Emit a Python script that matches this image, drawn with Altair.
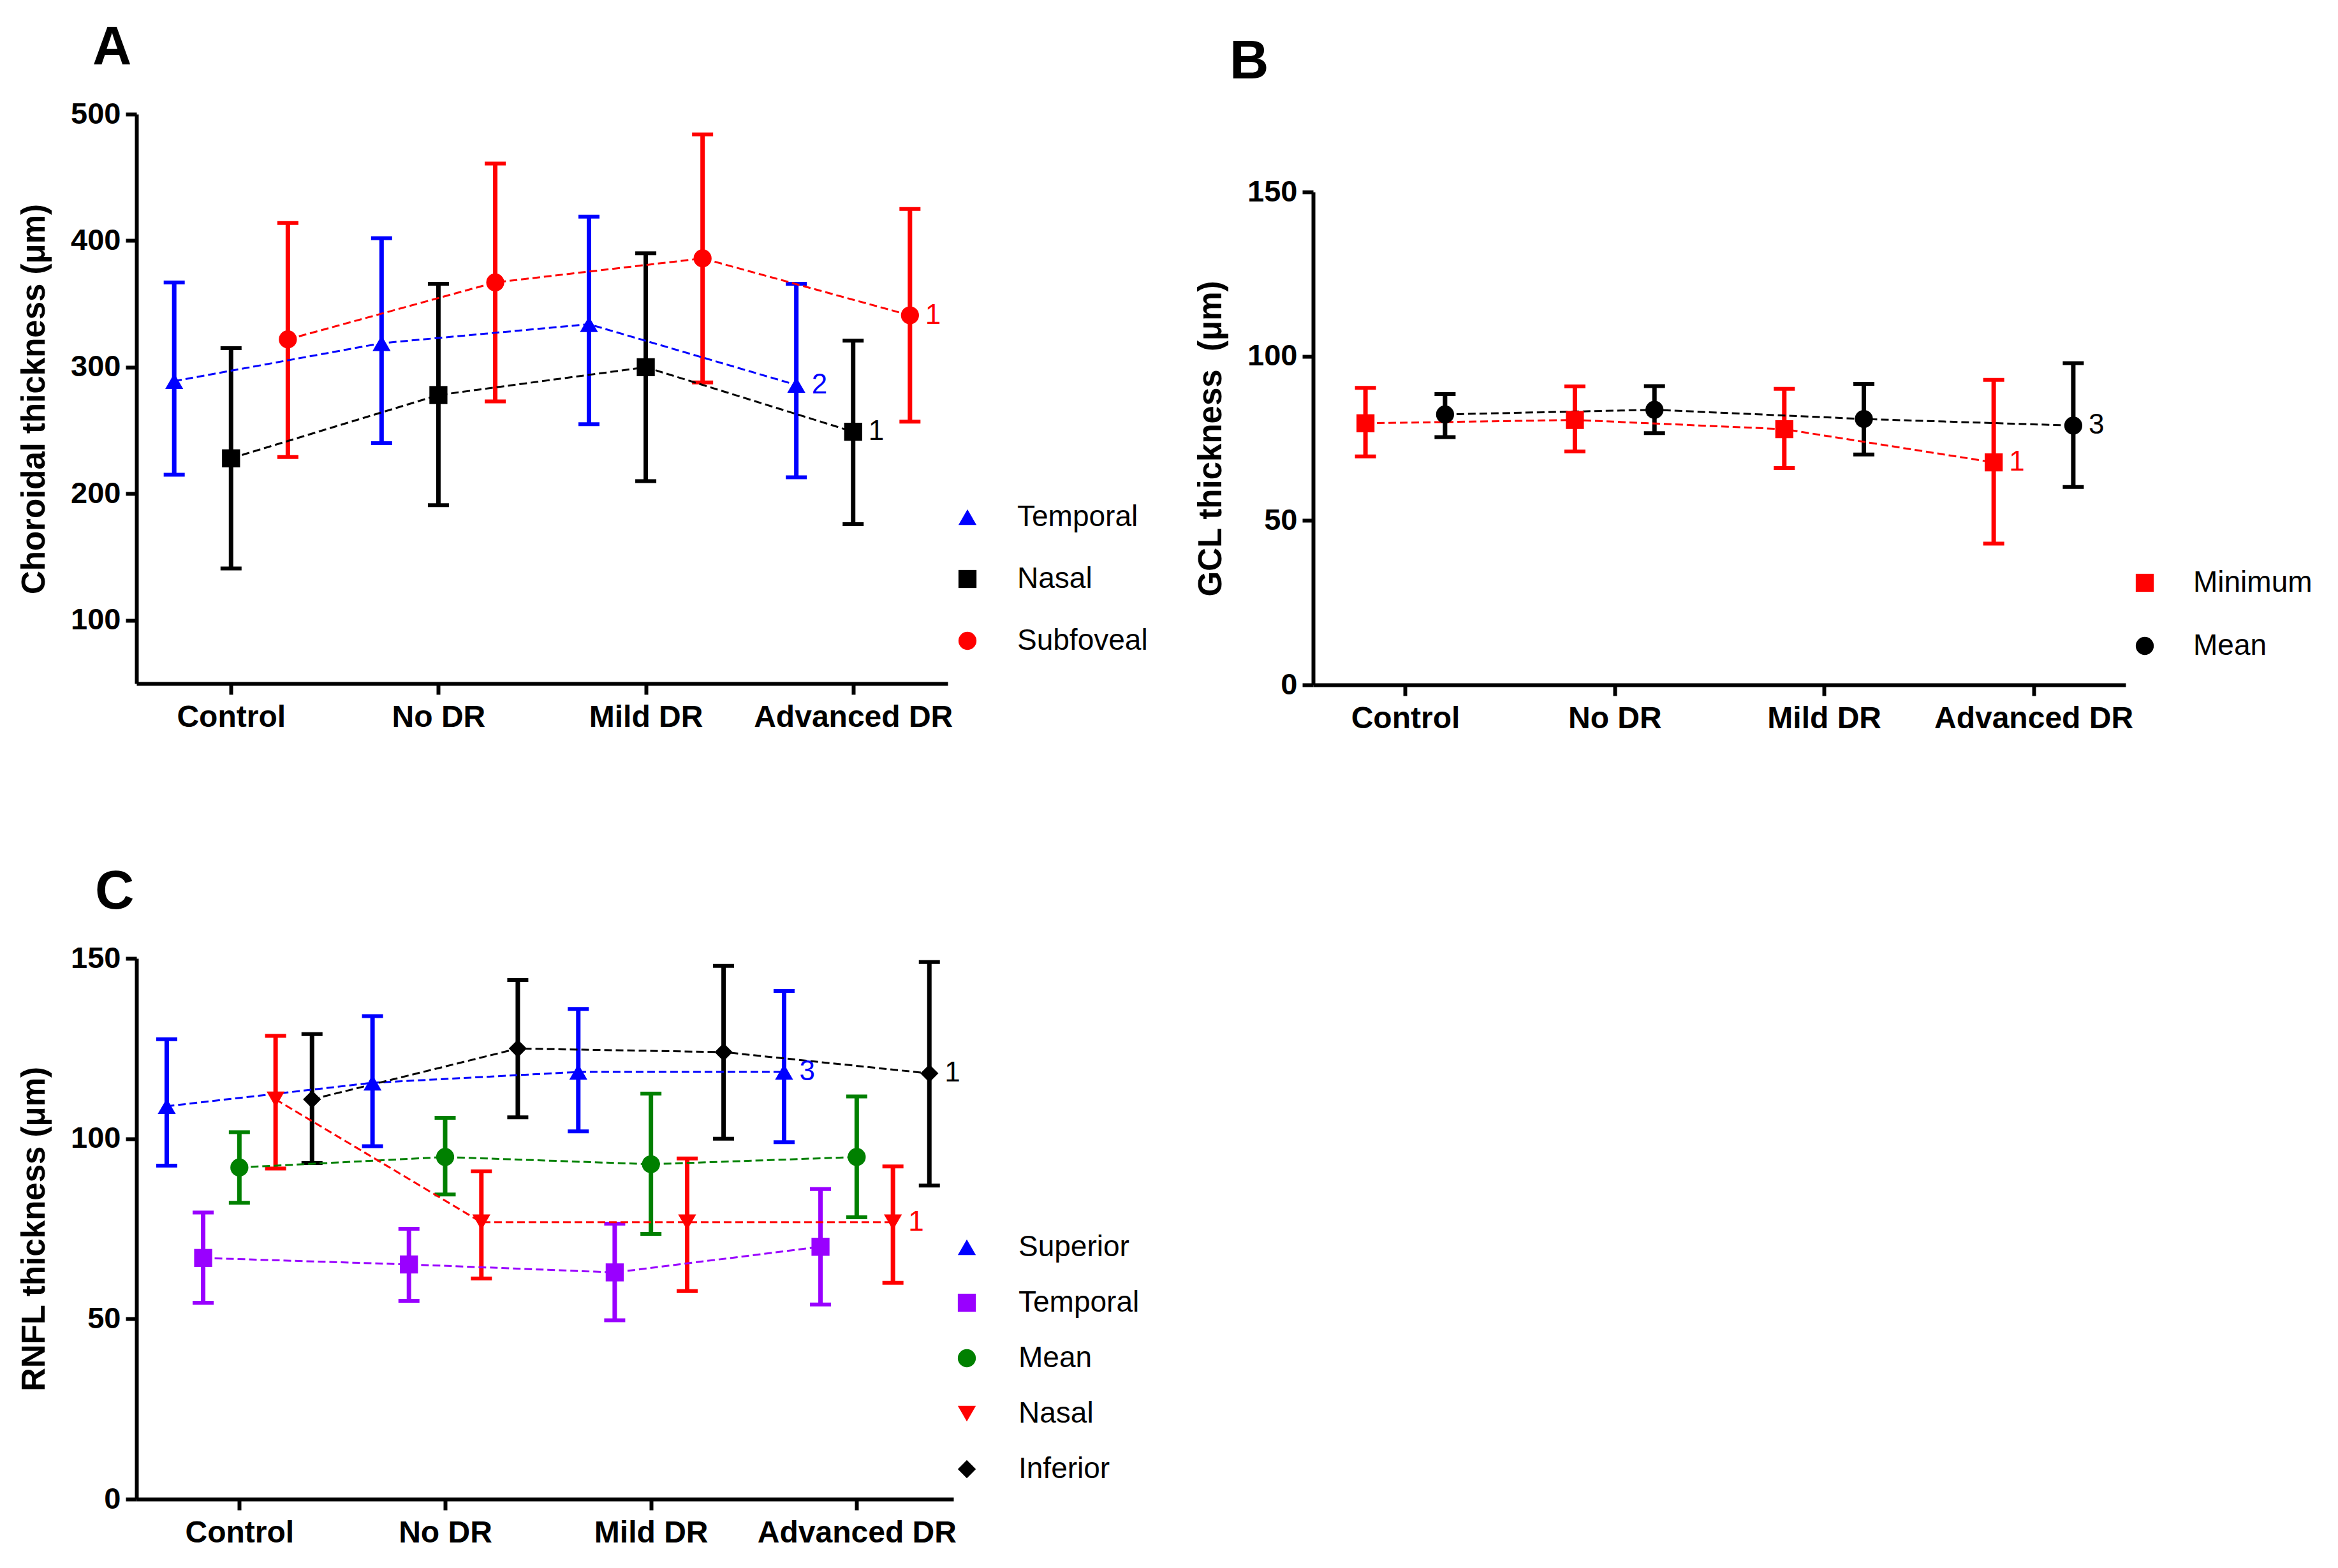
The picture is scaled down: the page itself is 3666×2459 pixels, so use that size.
import altair as alt
import pandas as pd

categories = ["Control", "No DR", "Mild DR", "Advanced DR"]

# ---------------- Panel A : choroidal thickness ----------------
a_series = ["Temporal", "Nasal", "Subfoveal"]
a_mean = {"Temporal": [289, 319, 334, 286],
          "Nasal": [228, 278, 300, 249],
          "Subfoveal": [322, 367, 386, 341]}
a_low = {"Temporal": [215, 240, 255, 213],
         "Nasal": [141, 191, 210, 176],
         "Subfoveal": [229, 273, 288, 257]}
a_high = {"Temporal": [367, 402, 419, 366],
          "Nasal": [315, 366, 390, 321],
          "Subfoveal": [414, 461, 484, 425]}
a_notes = {"Temporal": "2", "Nasal": "1", "Subfoveal": "1"}

# ---------------- Panel B : GCL thickness ----------------
b_series = ["Minimum", "Mean"]
b_mean = {"Minimum": [79.6, 80.6, 77.8, 67.7],
          "Mean": [82.3, 83.7, 80.9, 78.9]}
b_low = {"Minimum": [69.5, 71.0, 66.0, 43.0],
         "Mean": [75.4, 76.6, 70.1, 60.2]}
b_high = {"Minimum": [90.4, 90.8, 90.1, 92.8],
          "Mean": [88.5, 90.9, 91.6, 97.9]}
b_notes = {"Minimum": "1", "Mean": "3"}

# ---------------- Panel C : RNFL thickness ----------------
c_series = ["Superior", "Temporal", "Mean", "Nasal", "Inferior"]
c_mean = {"Superior": [109, 115.5, 118.5, 118.5],
          "Temporal": [66.9, 65.1, 62.9, 70.0],
          "Mean": [92.0, 94.9, 92.9, 94.9],
          "Nasal": [110.9, 76.8, 76.8, 76.8],
          "Inferior": [110.9, 125.0, 124.0, 118.1]}
c_low = {"Superior": [92.5, 97.9, 102.0, 99.0],
         "Temporal": [54.5, 55.0, 49.6, 54.0],
         "Mean": [82.2, 84.5, 73.6, 78.2],
         "Nasal": [91.7, 61.2, 57.7, 60.0],
         "Inferior": [93.2, 105.9, 100.0, 87.0]}
c_high = {"Superior": [127.6, 134.0, 136.0, 141.0],
          "Temporal": [79.5, 75.0, 76.4, 86.0],
          "Mean": [101.8, 105.8, 112.5, 111.7],
          "Nasal": [128.5, 90.9, 94.5, 92.3],
          "Inferior": [129.0, 144.0, 147.9, 149.0]}
c_notes = {"Superior": "3", "Temporal": "", "Mean": "", "Nasal": "1", "Inferior": "1"}

# ---------------- styles ----------------
FONT = "Liberation Sans"
a_style = dict(colors=["#0000FF", "#000000", "#FF0000"],
               shapes=["triangle-up", "square", "circle"],
               offsets=[-0.274, 0.0, 0.274])
b_style = dict(colors=["#FF0000", "#000000"],
               shapes=["square", "circle"],
               offsets=[-0.19, 0.19])
c_style = dict(colors=["#0000FF", "#9900FF", "#008000", "#FF0000", "#000000"],
               shapes=["triangle-up", "square", "circle", "triangle-down", "diamond"],
               offsets=[-0.353, -0.176, 0.0, 0.176, 0.353])

label_expr = "[" + ",".join("'%s'" % c for c in categories) + "][datum.value]"


def letter_title(letter, dx):
    return alt.TitleParams(letter, anchor="start", frame="group", fontSize=85,
                           fontWeight="bold", font=FONT, color="#000000",
                           dx=dx, offset=36)


def build_table(series, mean, low, high, notes, offsets):
    rows = []
    for s, off in zip(series, offsets):
        for i, c in enumerate(categories):
            rows.append(dict(series=s, cat=c, x=i + off, y=mean[s][i],
                             lo=low[s][i], hi=high[s][i],
                             note=notes[s] if i == len(categories) - 1 else ""))
    return pd.DataFrame(rows)


def panel(series, mean, low, high, notes, style, xdom, ydom, yvals, ytitle,
          w, h, legend_x, legend_y, row_pad, label_offset, title=None):
    df = build_table(series, mean, low, high, notes, style["offsets"])
    xs = alt.Scale(domain=xdom, nice=False, zero=False)
    ys = alt.Scale(domain=ydom, nice=False, zero=False)
    xaxis = alt.Axis(values=list(range(len(categories))), labelExpr=label_expr,
                     title=None, grid=False)
    yaxis = alt.Axis(values=yvals, title=ytitle, grid=False)
    col_scale = alt.Scale(domain=series, range=style["colors"])
    leg = alt.Legend(title=None, orient="none", legendX=legend_x, legendY=legend_y,
                     symbolSize=800, symbolStrokeWidth=0, labelFontSize=46,
                     labelFont=FONT, labelFontWeight="normal", labelColor="#000000",
                     labelOffset=label_offset, rowPadding=row_pad, padding=0,
                     labelLimit=400)
    base = alt.Chart(df)
    X = alt.X("x:Q", scale=xs, axis=xaxis)

    rules, caps, lines, texts = [], [], [], []
    for s, c in zip(series, style["colors"]):
        sb = base.transform_filter(alt.datum.series == s)
        rules.append(sb.mark_rule(strokeWidth=7, color=c).encode(
            x=X, y=alt.Y("lo:Q", scale=ys, axis=yaxis), y2="hi:Q"))
        caps.append(sb.transform_fold(["lo", "hi"], as_=["k", "v"]).mark_tick(
            orient="horizontal", size=33, thickness=6, opacity=1, color=c).encode(
            x=X, y=alt.Y("v:Q", scale=ys, axis=yaxis)))
        lines.append(sb.mark_line(strokeWidth=3, strokeDash=[12, 6], color=c).encode(
            x=X, y=alt.Y("y:Q", scale=ys, axis=yaxis), order="x:Q"))
        if notes[s]:
            texts.append(sb.transform_filter("datum.note != ''").mark_text(
                align="left", baseline="middle", dx=24, fontSize=44, font=FONT,
                color=c).encode(
                x=X, y=alt.Y("y:Q", scale=ys, axis=yaxis), text="note:N"))

    points = base.mark_point(filled=True, size=800, opacity=1).encode(
        x=X, y=alt.Y("y:Q", scale=ys, axis=yaxis),
        color=alt.Color("series:N", scale=col_scale, legend=leg),
        shape=alt.Shape("series:N", scale=alt.Scale(domain=series, range=style["shapes"]),
                        legend=leg))

    props = dict(width=w, height=h)
    if title is not None:
        props["title"] = title
    return alt.layer(*rules, *caps, *lines, points, *texts).properties(**props)


def spacer(w, title):
    return alt.Chart(pd.DataFrame({"v": [0]})).mark_point(opacity=0).encode(
        x=alt.X("v:Q", axis=None), y=alt.Y("v:Q", axis=None)
    ).properties(width=w, height=1, title=title)


pa = panel(a_series, a_mean, a_low, a_high, a_notes, a_style,
           [-0.456, 3.456], [50, 500], [100, 200, 300, 400, 500],
           "Choroidal thickness (\u03bcm)", 1272, 893,
           1280, 609, 51, 55, title=letter_title("A", -69))
pb = panel(b_series, b_mean, b_low, b_high, b_notes, b_style,
           [-0.44, 3.44], [0, 150], [0, 50, 100, 150],
           "GCL thickness\u00a0\u00a0(\u03bcm)", 1274, 773,
           1281, 590, 53, 53)
pc = panel(c_series, c_mean, c_low, c_high, c_notes, c_style,
           [-0.5, 3.47], [0, 150], [0, 50, 100, 150],
           "RNFL thickness (\u03bcm)", 1281, 848,
           1279, 430, 41, 58, title=letter_title("C", -65))

IND = dict(x="independent", y="independent", color="independent", shape="independent")

pb_col = alt.vconcat(spacer(1274, letter_title("B", -131)), pb, spacing=94).resolve_scale(**IND)

top_row = alt.hconcat(pa, pb_col, spacing=73).resolve_scale(**IND)

chart = alt.vconcat(top_row, pc, spacing=206).resolve_scale(**IND).properties(
    padding={"left": 20, "top": 25, "right": 5, "bottom": 5}
).configure_view(stroke=None).configure_axis(
    domainColor="#000000", domainWidth=6, tickColor="#000000", tickWidth=6, tickSize=17,
    labelFont=FONT, labelFontSize=47, labelFontWeight="bold", labelColor="#000000",
    labelPadding=8, titleFont=FONT, titleFontSize=51, titleFontWeight="bold",
    titleColor="#000000", titlePadding=30, labelFlush=False, labelOverlap=False,
    labelLimit=0
).configure_axisX(labelPadding=12, labelFontSize=48)

chart.save("out.html", embed_options={"renderer": "svg", "actions": False})
